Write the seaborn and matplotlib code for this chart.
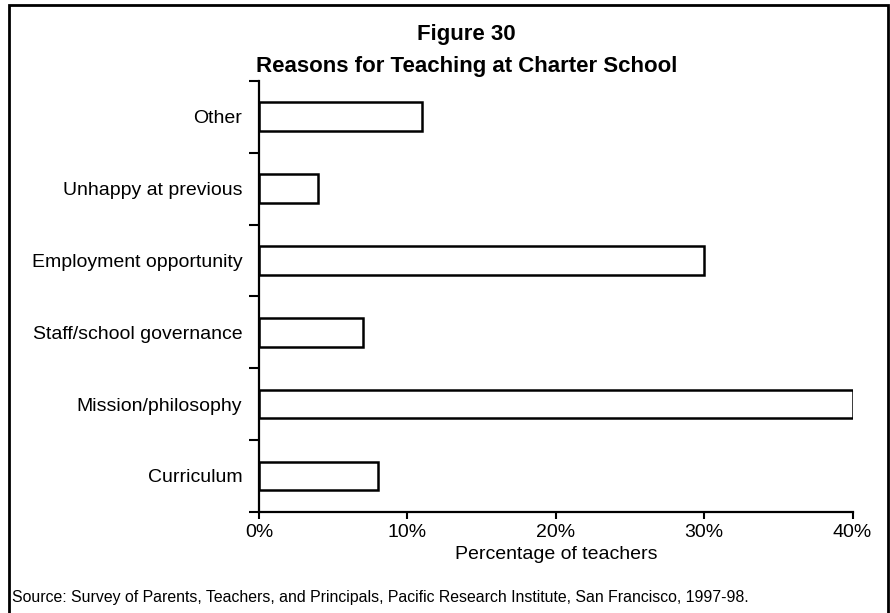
import matplotlib
matplotlib.use("Agg")
import matplotlib.pyplot as plt
import seaborn as sns
import pandas as pd
from matplotlib.ticker import PercentFormatter

# Data (percent of teachers)
reasons = ["Other", "Unhappy at previous", "Employment opportunity",
           "Staff/school governance", "Mission/philosophy", "Curriculum"]
percents = [11, 4, 30, 7, 40, 8]
x_ticks = [0, 10, 20, 30, 40]

df = pd.DataFrame({"reason": reasons, "pct": percents})

sns.set_theme(style="white")
plt.rcParams["font.family"] = ["Liberation Sans Narrow", "Liberation Sans", "DejaVu Sans"]
for key in ["text.color", "axes.labelcolor", "xtick.color", "ytick.color"]:
    plt.rcParams[key] = "black"

fig = plt.figure(figsize=(8.9, 6.13), dpi=100)
ax = fig.add_axes([0.291, 0.165, 0.667, 0.703])

sns.barplot(data=df, x="pct", y="reason", orient="h", color="white",
            edgecolor="black", linewidth=1.8, width=0.4, saturation=1, ax=ax)

ax.set_xlim(0, 40)
ax.set_ylim(len(reasons) - 0.5, -0.5)
ax.set_xticks(x_ticks)
ax.xaxis.set_major_formatter(PercentFormatter(decimals=0))
ax.set_xlabel("Percentage of teachers", fontsize=14, labelpad=3)
ax.set_ylabel("")

# category labels centred on bars, tick marks between categories
ax.set_yticks(range(len(reasons)))
ax.set_yticklabels(reasons, fontsize=14)
ax.tick_params(axis="y", which="major", left=False, pad=6)
ax.set_yticks([i - 0.5 for i in range(len(reasons) + 1)], minor=True)
ax.tick_params(axis="y", which="minor", left=True, length=7, width=1.5,
               direction="out", color="black")
ax.tick_params(axis="x", bottom=True, length=5, width=1.5, direction="out",
               color="black", labelsize=14, pad=4)

for side in ["top", "right"]:
    ax.spines[side].set_visible(False)
for side in ["left", "bottom"]:
    ax.spines[side].set_color("black")
    ax.spines[side].set_linewidth(1.6)

fig.text(0.524, 0.943, "Figure 30", ha="center", va="center",
         fontsize=16, fontweight="bold")
fig.text(0.524, 0.891, "Reasons for Teaching at Charter School", ha="center",
         va="center", fontsize=16, fontweight="bold")
fig.text(0.013, 0.025, "Source: Survey of Parents, Teachers, and Principals, "
         "Pacific Research Institute, San Francisco, 1997-98.",
         ha="left", va="center", fontsize=11.4)

# page frame around the figure
frame = plt.Rectangle((0.010, -0.01), 0.988, 1.002, transform=fig.transFigure,
                      fill=False, edgecolor="black", linewidth=2)
fig.add_artist(frame)

fig.savefig("out.png", dpi=100)
